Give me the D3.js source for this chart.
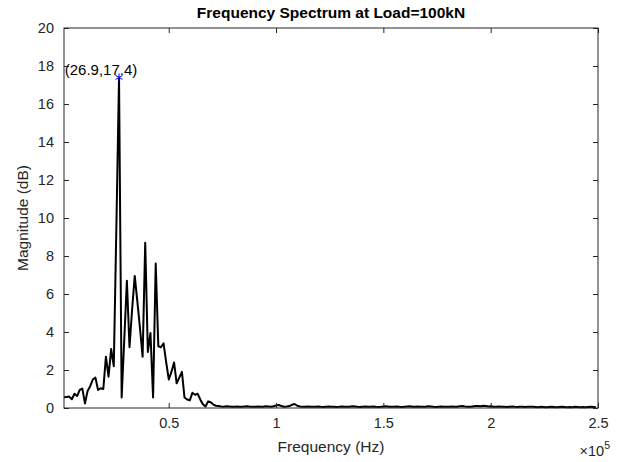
<!DOCTYPE html>
<html>
<head>
  <meta charset="utf-8">
  <title>frequency spectrum</title>
  <script src="https://cdn.jsdelivr.net/npm/d3@7"></script>
  <style type="text/css">
    body { margin: 0; background: #fff; }
    svg { display: block; font-family: "Liberation Sans", Arial, sans-serif; }
  </style>
</head>
<body>
<script type="text/javascript">

// FFT bin spacing in Hz, the first point is bin 1 (no DC)
var binHz = 1220.703;

// magnitudes (dB), one per bin
var magnitude = [
  0.56, 0.58, 0.6, 0.46, 0.75, 0.63, 0.95, 1.02, 0.24, 0.9, 1.15, 1.5,
  1.6, 0.95, 1.04, 1.0, 2.7, 1.65, 3.1, 2.2, 9.6, 17.4, 0.55, 3.6,
  6.7, 3.2, 5.2, 6.95, 5.6, 4.2, 2.7, 8.7, 2.95, 3.95, 0.55, 7.6,
  3.25, 3.2, 3.4, 2.4, 1.5, 1.9, 2.4, 1.3, 1.6, 1.9, 0.55, 0.45,
  0.4, 0.8, 0.7, 0.75, 0.45, 0.2, 0.08, 0.35, 0.3, 0.18, 0.12, 0.1,
  0.08, 0.07, 0.09, 0.08, 0.06, 0.07, 0.08, 0.07, 0.06, 0.08, 0.09, 0.07,
  0.06, 0.07, 0.08, 0.06, 0.07, 0.09, 0.08, 0.07, 0.09, 0.14, 0.16, 0.1,
  0.07, 0.08, 0.1, 0.17, 0.21, 0.12, 0.08, 0.07, 0.06, 0.08, 0.07, 0.06,
  0.07, 0.08, 0.06, 0.05, 0.07, 0.08, 0.07, 0.06, 0.05, 0.06, 0.08, 0.07,
  0.06, 0.07, 0.09, 0.08, 0.06, 0.05, 0.07, 0.08, 0.06, 0.07, 0.08, 0.06,
  0.05, 0.06, 0.08, 0.09, 0.07, 0.06, 0.07, 0.08, 0.06, 0.05, 0.07, 0.08,
  0.09, 0.07, 0.06, 0.08, 0.07, 0.06, 0.07, 0.09, 0.08, 0.06, 0.05, 0.07,
  0.08, 0.07, 0.06, 0.07, 0.08, 0.06, 0.07, 0.09, 0.1, 0.08, 0.07, 0.06,
  0.08, 0.1, 0.11, 0.09, 0.12, 0.1, 0.08, 0.09, 0.07, 0.06, 0.08, 0.07,
  0.06, 0.05, 0.07, 0.08, 0.06, 0.05, 0.06, 0.07, 0.05, 0.06, 0.07, 0.06,
  0.05, 0.04, 0.06, 0.05, 0.04, 0.05, 0.06, 0.05, 0.04, 0.05, 0.06, 0.05,
  0.04, 0.05, 0.04, 0.06, 0.05, 0.04, 0.05, 0.04, 0.05, 0.06, 0.05, 0.04
];

// tick values
var xTicks = [50000, 100000, 150000, 200000, 250000];
var xTickLabels = ["0.5", "1", "1.5", "2", "2.5"];
var yTicks = [0, 2, 4, 6, 8, 10, 12, 14, 16, 18, 20];

var w = 624;
var h = 462;
// plot box (don't call it "top", that one belongs to window)
var plotL = 64, plotR = 598, plotT = 28, plotB = 408;
var axisColor = "#262626";

var data = magnitude.map(function(d, i) {
  return { f: (i + 1) * binHz, v: d };
});

var xScale = d3.scaleLinear()
               .domain([binHz, 250000])
               .range([plotL, plotR]);

var yScale = d3.scaleLinear()
               .domain([0, 20])
               .range([plotB, plotT]);

var svg = d3.select("body")
  .append("svg")
  .attr("width", w)
  .attr("height", h);

// the spectrum line
var line = d3.line()
  .x(function(d) { return xScale(d.f); })
  .y(function(d) { return yScale(d.v); });

svg.append("path")
   .datum(data)
   .attr("d", line)
   .attr("fill", "none")
   .attr("stroke", "#000")
   .attr("stroke-width", 2)
   .attr("stroke-linejoin", "round");

// axes, MATLAB style: ticks inside, on all four sides
var tickLen = 5;

svg.append("g")
  .attr("transform", "translate(0," + plotB + ")")
  .call(d3.axisBottom(xScale).tickValues(xTicks)
        .tickSize(-tickLen).tickPadding(10)
        .tickFormat(function(d, i) { return xTickLabels[i]; }));

svg.append("g")
  .attr("transform", "translate(0," + plotT + ")")
  .call(d3.axisTop(xScale).tickValues(xTicks)
        .tickSize(-tickLen).tickFormat(""));

svg.append("g")
  .attr("transform", "translate(" + plotL + ",0)")
  .call(d3.axisLeft(yScale).tickValues(yTicks)
        .tickSize(-tickLen).tickPadding(10));

svg.append("g")
  .attr("transform", "translate(" + plotR + ",0)")
  .call(d3.axisRight(yScale).tickValues(yTicks)
        .tickSize(-tickLen).tickFormat(""));

svg.selectAll(".domain").remove();

svg.selectAll(".tick line")
   .attr("stroke", axisColor);

svg.selectAll(".tick text")
   .attr("fill", axisColor)
   .attr("font-family", "'Liberation Sans', Arial, sans-serif")
   .attr("font-size", "14.5px");

// box around the plot area
svg.append("rect")
   .attr("x", plotL)
   .attr("y", plotT)
   .attr("width", plotR - plotL)
   .attr("height", plotB - plotT)
   .attr("fill", "none")
   .attr("stroke", axisColor)
   .attr("stroke-width", 1);

// peak marker and its label
var peak = data[d3.maxIndex(data, function(d) { return d.v; })];
var px = xScale(peak.f), py = yScale(peak.v);

svg.append("path")
   .attr("d", d3.symbol().type(d3.symbolAsterisk).size(45))
   .attr("transform", "translate(" + px + "," + py + ")")
   .attr("fill", "none")
   .attr("stroke", "#0000ff")
   .attr("stroke-width", 1);

svg.append("text")
   .attr("x", px - 18)
   .attr("y", py - 2)
   .attr("text-anchor", "middle")
   .attr("font-size", "15px")
   .attr("fill", "#000")
   .text("(" + (peak.f / 1000).toFixed(1) + "," + peak.v.toFixed(1) + ")");

// title and axis labels
svg.append("text")
   .attr("x", (plotL + plotR) / 2)
   .attr("y", 18)
   .attr("text-anchor", "middle")
   .attr("font-size", "15.5px")
   .attr("font-weight", "bold")
   .attr("fill", "#000")
   .text("Frequency Spectrum at Load=100kN");

svg.append("text")
   .attr("x", (plotL + plotR) / 2)
   .attr("y", 452)
   .attr("text-anchor", "middle")
   .attr("font-size", "15.5px")
   .attr("fill", axisColor)
   .text("Frequency (Hz)");

svg.append("text")
   .attr("transform", "translate(28," + ((plotT + plotB) / 2) + ") rotate(-90)")
   .attr("text-anchor", "middle")
   .attr("font-size", "15.5px")
   .attr("fill", axisColor)
   .text("Magnitude (dB)");

var exp = svg.append("text")
   .attr("x", plotR + 12)
   .attr("y", 456)
   .attr("text-anchor", "end")
   .attr("font-size", "14.5px")
   .attr("fill", axisColor);
exp.append("tspan").text("\u00d710");
exp.append("tspan").attr("dy", -7).attr("font-size", "10.5px").text("5");

</script>
</body>
</html>
